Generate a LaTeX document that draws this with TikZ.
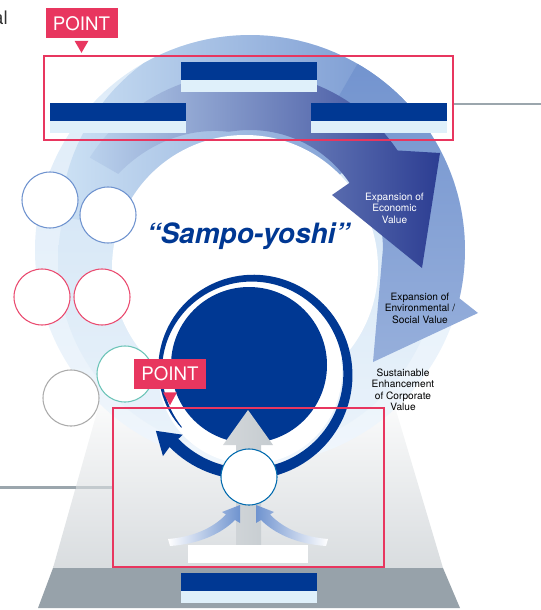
\documentclass[tikz,border=0pt]{standalone}
\usepackage{fontspec}
\setmainfont{TeX Gyre Heros}
\usetikzlibrary{positioning,fit}
\definecolor{spyNavy}{HTML}{003893}
\definecolor{spyPink}{HTML}{E8365F}
\definecolor{spyIce}{HTML}{DFF0FA}
\definecolor{spyPaleA}{HTML}{DDEBF8}
\definecolor{spyPaleB}{HTML}{CCE1F4}
\definecolor{spyMid}{HTML}{7394CF}
\definecolor{spyDark}{HTML}{2C3D92}
\definecolor{spyBase}{HTML}{97A2AA}
\definecolor{spyLine}{HTML}{9BA6AD}
\definecolor{spyArr}{HTML}{6F93CF}
\definecolor{spyTeal}{HTML}{6CC4B8}
\begin{document}
\begin{tikzpicture}[x=0.75pt,y=-0.75pt,
    spyBar/.style={rectangle,fill=spyNavy,minimum width=102pt,minimum height=13.5pt,inner sep=0pt,outer sep=0pt},
    spySub/.style={rectangle,fill=spyIce,minimum width=102pt,minimum height=9pt,inner sep=0pt,outer sep=0pt},
    spyFrame/.style={rectangle,draw=spyPink,line width=1.9pt,inner sep=0pt},
    spyPt/.style={rectangle,fill=spyPink,text=white,minimum width=54pt,minimum height=22.5pt,inner sep=0pt,font=\fontsize{14}{14}\selectfont},
    spyCirc/.style={circle,draw=#1,fill=white,line width=0.8pt,minimum size=42pt,inner sep=0pt},
    spyConn/.style={draw=spyLine,line width=1.6pt},
    spyTxt/.style={align=center,font=\fontsize{7.6}{8.6}\selectfont},
]
\useasboundingbox (0,0) rectangle (541,610);
\shade[top color=white,bottom color=black!3!spyBase!35!white] (106,380) -- (387,380) -- (443,568) -- (53,568) -- cycle;
\fill[spyBase] (53,568) -- (443,568) -- (460,608) -- (38,608) -- cycle;
\shade[top color=spyPaleA,bottom color=spyPaleA!45!white] (250,250) circle[radius=215];
\shade[top color=spyPaleB,bottom color=spyPaleB!40!white] (248,262) circle[radius=190];
\begin{scope}[shift={(250,250)}]
\shade[left color=spyPaleB,right color=spyMid] plot[domain=-170:-40,samples=50] (\x:{215-0.45*max(0,-120-(\x))}) -- (0,0) -- cycle;
\end{scope}
\fill[white] (245,268) circle[radius=133];
\begin{scope}[shift={(250,250)}]
\shade[top color=spyMid,bottom color=spyMid!75!white] plot[domain=-60:13,samples=40] (\x:215) -- (228,63) -- (123,112) -- (133,-2) -- plot[domain=-1:-60,samples=30] (\x:133) -- cycle;
\shade[left color=spyPaleB!80!spyMid,middle color=spyMid!85!spyDark,right color=spyDark] plot[domain=-150:-34,samples=50] (\x:{178+0.14*max(0,-100-(\x))}) -- (190,-97) -- (172,18) -- (82,-55) -- plot[domain=-34:-150,samples=50] (\x:{120+0.643*max(0,-100-(\x))}) -- cycle;
\end{scope}
\begin{scope}[shift={(250,372)}]
\fill[white] (0,0) circle[radius=92];
\fill[spyNavy] plot[domain=-219:137,samples=120] (\x:{88+16*((\x)+220)/357+0.5*(0.5+11.5*(((\x)+220)/357)^0.6)}) -- (136:121) -- (148:111) -- (137:92) -- plot[domain=137:-219,samples=120] (\x:{88+16*((\x)+220)/357-0.5*(0.5+11.5*(((\x)+220)/357)^0.6)}) -- cycle;
\end{scope}
\fill[spyNavy] (249,365) circle[radius=78];
\shade[left color=black!4!spyBase!40!white,right color=spyBase!55!white] (248,410) -- (273,445) -- (261,445) -- (261,546) -- (236,546) -- (236,445) -- (223,445) -- cycle;
\node[circle,draw=spyNavy!75!cyan,fill=white,line width=0.8pt,minimum size=42pt,inner sep=0pt] (hub) at (249,477) {};
\shade[left color=white,right color=spyArr] (168,539) .. controls (192,537) and (212,529) .. (226,514.5) -- (222,512) -- (240,505) -- (240,523) -- (235,520) .. controls (222,533) and (200,544) .. (170,546) -- cycle;
\shade[left color=spyArr,right color=white] (328,539) .. controls (304,537) and (284,529) .. (270,514.5) -- (274,512) -- (256,505) -- (256,523) -- (261,520) .. controls (274,533) and (296,544) .. (326,546) -- cycle;
\node[fill=white,minimum width=90pt,minimum height=13.5pt,inner sep=0pt] (baseLbl) at (248,554) {};
\node[font=\fontsize{21}{21}\selectfont\bfseries\itshape,text=spyNavy,anchor=base] (spyTitle) at (248,243) {“Sampo-yoshi”};
\node[spyTxt,text=white] (lblEcon) at (394.5,208) {Expansion of\\Economic\\Value};
\node[spyTxt,text=black] (lblEnv) at (420,308) {Expansion of\\Environmental /\\Social Value};
\node[spyTxt,text=black] (lblCorp) at (403,390) {Sustainable\\Enhancement\\of Corporate\\Value};
\node[spyBar] (barTop) at (249,71) {};
\node[spySub,below=0pt of barTop] (subTop) {};
\node[spyBar] (barLeft) at (118,112) {};
\node[spySub,below=0pt of barLeft] (subLeft) {};
\node[spyBar] (barRight) at (379,112) {};
\node[spySub,below=0pt of barRight] (subRight) {};
\node[spyBar] (barBase) at (249,582) {};
\node[spySub,below=0pt of barBase] (subBase) {};
\node[spyFrame,fit={(44,56) (453,140)}] (ptop) {};
\node[spyFrame,fit={(113,408) (384,567)}] (pbot) {};
\node[spyCirc=spyArr] (cB1) at (50,200) {};
\node[spyCirc=spyArr] (cB2) at (108,215) {};
\node[spyCirc=spyPink!90!white] (cP1) at (42,297) {};
\node[spyCirc=spyPink!90!white] (cP2) at (102,297) {};
\node[spyCirc=spyTeal] (cT1) at (125,374) {};
\node[spyCirc=black!33] (cG1) at (71,398) {};
\node[spyPt] (ptTop) at (81.5,23.5) {POINT};
\fill[spyPink] ([xshift=-5.25pt,yshift=-1.5pt]ptTop.south) -- ([xshift=5.25pt,yshift=-1.5pt]ptTop.south) -- ([yshift=-10.5pt]ptTop.south) -- cycle;
\node[spyPt] (ptBot) at (170,374) {POINT};
\fill[spyPink] ([xshift=-5.25pt,yshift=-2.25pt]ptBot.south) -- ([xshift=5.25pt,yshift=-2.25pt]ptBot.south) -- ([yshift=-12pt]ptBot.south) -- cycle;
\coordinate (lnR) at (541,104);
\coordinate (lnL) at (0,487.5);
\coordinate (lnM) at (76,487.5);
\draw[spyConn] ([yshift=-4.5pt]ptop.east) -- (lnR);
\draw[spyConn] (lnL) -- (lnM);
\draw[spyConn,draw=spyLine!60!white] (lnM) -- (pbot.west);
\node[anchor=base east,inner sep=0pt,font=\fontsize{14}{14}\selectfont,text=black!80] (cutTxt) at (8,25) {al};
\end{tikzpicture}
\end{document}
